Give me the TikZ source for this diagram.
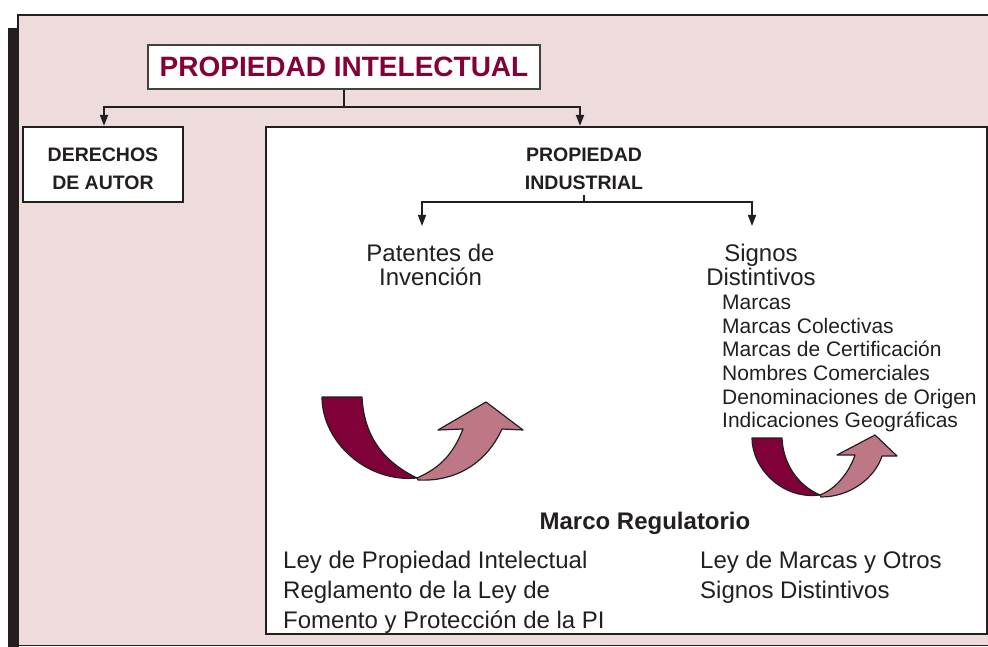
\documentclass[tikz,border=0pt]{standalone}
\usepackage{fontspec}
\setmainfont{Liberation Sans}
\usetikzlibrary{arrows.meta}
\definecolor{panelpink}{RGB}{238,220,221}
\definecolor{linecol}{RGB}{35,31,32}
\definecolor{titlemaroon}{RGB}{133,0,56}
\definecolor{arrdark}{RGB}{128,0,56}
\definecolor{arrpink}{RGB}{190,120,133}
\begin{document}
\begin{tikzpicture}[x=1pt,y=-1pt,
  conn/.style={line width=1.8pt, draw=linecol, -{Triangle[length=11pt,width=8pt]}},
  connthin/.style={line width=1.4pt, draw=linecol, -{Triangle[length=11pt,width=8pt]}},
  boxstyle/.style={draw=linecol, line width=2.2pt, fill=white, inner sep=0pt},
  headtxt/.style={font=\bfseries\fontsize{19.5}{28}\selectfont, align=center, inner sep=0pt, text=linecol},
  bodytxt/.style={font=\fontsize{24}{30}\selectfont, inner sep=0pt, text=linecol},
  smalltxt/.style={font=\fontsize{21}{23.6}\selectfont, inner sep=0pt, text=linecol},
  curvedark/.style={fill=arrdark, draw=linecol, line width=1.2pt, line join=round},
  curvepink/.style={fill=arrpink, draw=linecol, line width=1.2pt, line join=round}]
\useasboundingbox (0,0) rectangle (988,647);
% background panel
\fill[linecol] (8,28) rectangle (18,647);
\fill[panelpink] (18,15) rectangle (1010,645.5);
\draw[linecol, line width=2.6pt] (17,15) -- (1010,15);
\draw[linecol, line width=2pt] (18,14) -- (18,647);
\draw[linecol, line width=1pt] (18,645.5) -- (1010,645.5);
% title
\node[draw=linecol!85, line width=1.3pt, fill=white, minimum width=392pt, minimum height=44pt,
      inner sep=0pt, font=\bfseries\fontsize{28}{28}\selectfont, text=titlemaroon] (title) at (344,67) {PROPIEDAD INTELECTUAL};
% boxes
\node[boxstyle, minimum width=160pt, minimum height=75pt] (derechos) at (103,164.5) {};
\node[headtxt, anchor=north] (dertxt) at (103,148) {DERECHOS\\DE AUTOR};
\node[boxstyle, minimum width=721pt, minimum height=507pt] (indbox) at (626.5,380.5) {};
\node[headtxt, anchor=north, inner ysep=5pt] (indtxt) at (584,143) {PROPIEDAD\\INDUSTRIAL};
% top connectors
\coordinate (j1l) at (104,107);
\coordinate (j1r) at (580,107);
\draw[conn] (title.south) |- (j1l) -- (j1l |- derechos.north);
\draw[conn] (title.south) |- (j1r) -- (j1r |- indbox.north);
% second level
\node[font=\fontsize{24}{24}\selectfont, align=center, anchor=north, inner xsep=0pt, inner ysep=18pt, text=linecol] (patentes) at (430.5,226) {Patentes de\\Invención};
\node[font=\fontsize{24}{24}\selectfont, align=center, anchor=north, inner xsep=0pt, inner ysep=18pt, text=linecol] (signos) at (761,226) {Signos\\Distintivos};
\coordinate (j2l) at (422,202);
\coordinate (j2r) at (752,202);
\draw[connthin] (indtxt.south) |- (j2l) -- (j2l |- patentes.north);
\draw[connthin] (indtxt.south) |- (j2r) -- (j2r |- signos.north);
\node[smalltxt, anchor=north west, align=left] (lista) at (722,295)
  {Marcas\\Marcas Colectivas\\Marcas de Certificación\\Nombres Comerciales\\Denominaciones de Origen\\Indicaciones Geográficas};
% big curved arrows
\path[curvedark] (322,397) -- (362,397) .. controls (364,437) and (384,462) .. (417,478)
   .. controls (367,483) and (322,442) .. cycle;
\path[curvepink] (417,478) .. controls (442,467) and (454,452) .. (463,429) -- (438,430) -- (486,402)
   -- (523,430) -- (502,429) .. controls (487,462) and (457,482) .. (418,480) -- cycle;
% small curved arrows
\path[curvedark] (752,438) -- (782,438) .. controls (783,463) and (797,485) .. (820,495)
   .. controls (782,500) and (752,468) .. cycle;
\path[curvepink] (820,495) .. controls (838,488) and (850,470) .. (855,455) -- (837,455) -- (875,435)
   -- (897,456) -- (882,456) .. controls (875,478) and (850,497) .. (821,497) -- cycle;
% regulatory frame
\node[font=\bfseries\fontsize{24}{24}\selectfont, inner sep=0pt, anchor=base, text=linecol] (marco) at (645,529) {Marco Regulatorio};
\node[bodytxt, anchor=north west, align=left] (leyizq) at (283,551)
  {Ley de Propiedad Intelectual\\Reglamento de la Ley de\\Fomento y Protección de la PI};
\node[bodytxt, anchor=north west, align=left] (leyder) at (700,551)
  {Ley de Marcas y Otros\\Signos Distintivos};
\end{tikzpicture}
\end{document}
